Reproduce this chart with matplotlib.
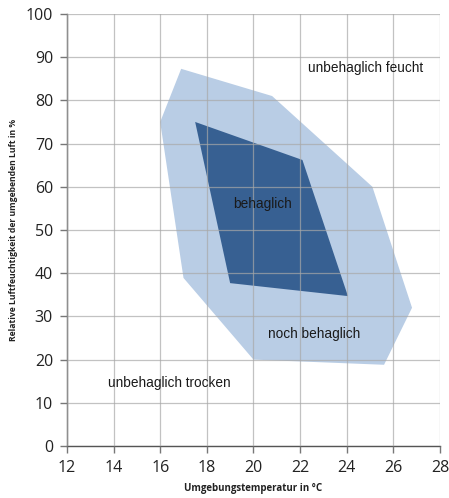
import matplotlib
matplotlib.use("Agg")
import matplotlib.pyplot as plt

# Comfort zones (temperature in °C, relative humidity in %)
outerTemp = [16.0, 16.9, 20.8, 25.1, 26.8, 25.6, 20.0, 17.0]
outerHum = [75.0, 87.3, 81.0, 60.0, 32.0, 18.8, 20.0, 38.9]
innerTemp = [17.5, 22.1, 24.05, 19.0]
innerHum = [75.0, 66.2, 34.7, 37.7]

# Region labels
labelText = ["unbehaglich feucht", "behaglich", "noch behaglich", "unbehaglich trocken"]
labelX = [24.8, 20.4, 22.6, 16.4]
labelY = [87.6, 56.0, 26.0, 14.6]

xTicks = [12, 14, 16, 18, 20, 22, 24, 26, 28]
yTicks = [0, 10, 20, 30, 40, 50, 60, 70, 80, 90, 100]

fig = plt.figure(figsize=(4.49, 4.98), dpi=100)
ax = fig.add_axes([0.149, 0.1044, 0.831, 0.8676])

ax.fill(outerTemp, outerHum, color="#b9cde5", lw=0, zorder=1)
ax.fill(innerTemp, innerHum, color="#376092", lw=0, zorder=2)

for t, x, y in zip(labelText, labelX, labelY):
    ax.text(x, y, t, ha="center", va="center", fontsize=9.8,
            family="Liberation Sans", color="#1a1a1a", zorder=4)

ax.set_xlim(12, 28)
ax.set_ylim(0, 100)
ax.set_xticks(xTicks)
ax.set_yticks(yTicks)
ax.grid(True, color="#a8a8a8", lw=0.9, alpha=0.7, zorder=3)
ax.set_axisbelow(False)
for s in ["top", "right"]:
    ax.spines[s].set_visible(False)
for s in ["left", "bottom"]:
    ax.spines[s].set_color("#555555")
    ax.spines[s].set_linewidth(1.0)
ax.tick_params(direction="out", length=5, width=1, color="#777777",
               labelsize=11.5, labelcolor="#222222", pad=5)
for lab in ax.get_xticklabels() + ax.get_yticklabels():
    lab.set_family("Open Sans")

ax.set_xlabel("Umgebungstemperatur in °C", fontsize=7, fontweight="bold",
              family="Open Sans", color="#222222", labelpad=5)
ax.set_ylabel("Relative Luftfeuchtigkeit der umgebenden Luft in %", fontsize=6.2,
              fontweight="bold", family="Open Sans", color="#222222")
ax.yaxis.set_label_coords(-0.131, 0.5)

fig.savefig("out.png", dpi=100)
